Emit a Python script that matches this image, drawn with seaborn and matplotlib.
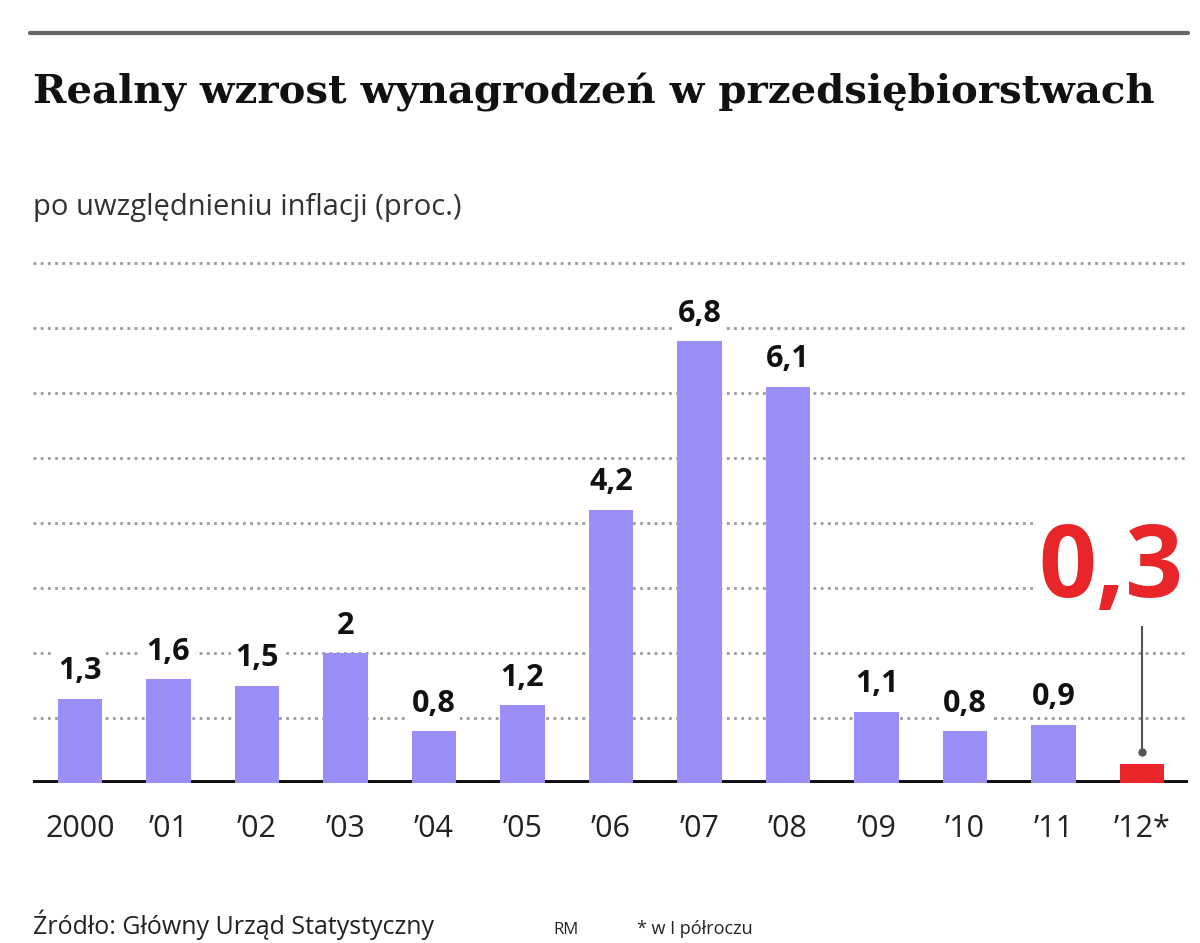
import matplotlib
matplotlib.use("Agg")
import matplotlib.pyplot as plt
import seaborn as sns
import pandas as pd

years = ["2000", "’01", "’02", "’03", "’04", "’05", "’06", "’07", "’08", "’09", "’10", "’11", "’12*"]
values = [1.3, 1.6, 1.5, 2.0, 0.8, 1.2, 4.2, 6.8, 6.1, 1.1, 0.8, 0.9, 0.3]
labels = ["1,3", "1,6", "1,5", "2", "0,8", "1,2", "4,2", "6,8", "6,1", "1,1", "0,8", "0,9", "0,3"]

BAR = "#9a8ff6"
RED = "#e8262a"

sns.set_theme(style="white")
plt.rcParams["font.family"] = ["Open Sans", "DejaVu Sans"]

df = pd.DataFrame({"year": years, "value": values})
colors = [BAR] * (len(years) - 1) + [RED]

W, H = 1200, 943
fig = plt.figure(figsize=(W / 100, H / 100), dpi=100)
ax = fig.add_axes([33 / W, (H - 783) / H, (1188 - 33) / W, 9 * 65 / H])

sns.barplot(data=df, x="year", y="value", hue="year", palette=colors,
            legend=False, width=0.5, saturation=1, linewidth=0, ax=ax, zorder=3)

ax.set_xlim(-0.53, 12.52)
ax.set_ylim(0, 9)

# dotted grid
for g in range(1, 9):
    ax.axhline(g, color="#9a9a9a", lw=2, linestyle=(0, (1, 1.6)), zorder=1)
ax.axhline(0, color="#111111", lw=5, zorder=2)

for s in ax.spines.values():
    s.set_visible(False)
ax.set_yticks([])
ax.set_xlabel("")
ax.set_ylabel("")
ax.tick_params(axis="x", length=0, pad=22, labelsize=22, labelcolor="#222222")

# value labels (all but the last)
for i, (v, lab) in enumerate(zip(values[:-1], labels[:-1])):
    ax.annotate(lab, (i, v), xytext=(0, 9), textcoords="offset points",
                ha="center", va="bottom", fontsize=22, fontweight="bold",
                color="#111111", zorder=5,
                bbox=dict(boxstyle="square,pad=0.15", fc="white", ec="none"))

# highlighted last value
last = len(values) - 1
ax.text(last - 0.35, 2.86, labels[-1], ha="center", va="baseline",
        fontsize=73, fontweight="bold", color=RED, zorder=5,
        bbox=dict(boxstyle="square,pad=0.05", fc="white", ec="none"))
ax.plot([last, last], [0.48, 2.63], color="#555555", lw=1.5, zorder=4)
ax.plot([last], [0.48], "o", color="#555555", ms=5, zorder=4)

# header and footer
fig.add_artist(plt.Line2D([30 / W, 1188 / W], [1 - 33 / H, 1 - 33 / H],
                          color="#666666", lw=3))
fig.text(33 / W, 1 - 93 / H, "Realny wzrost wynagrodzeń w przedsiębiorstwach",
         ha="left", va="center", fontsize=29, fontweight="bold",
         family="DejaVu Serif", color="#111111")
fig.text(33 / W, 1 - 207 / H, "po uwzględnieniu inflacji (proc.)",
         ha="left", va="center", fontsize=21, color="#333333")
fig.text(33 / W, 1 - 934 / H, "Źródło: Główny Urząd Statystyczny",
         ha="left", va="baseline", fontsize=18, color="#222222")
fig.text(553 / W, 1 - 934 / H, "RM", ha="left", va="baseline",
         fontsize=12, color="#222222")
fig.text(637 / W, 1 - 934 / H, "* w I półroczu", ha="left", va="baseline",
         fontsize=13, color="#222222")

fig.savefig("out.png", dpi=100, facecolor="white")
